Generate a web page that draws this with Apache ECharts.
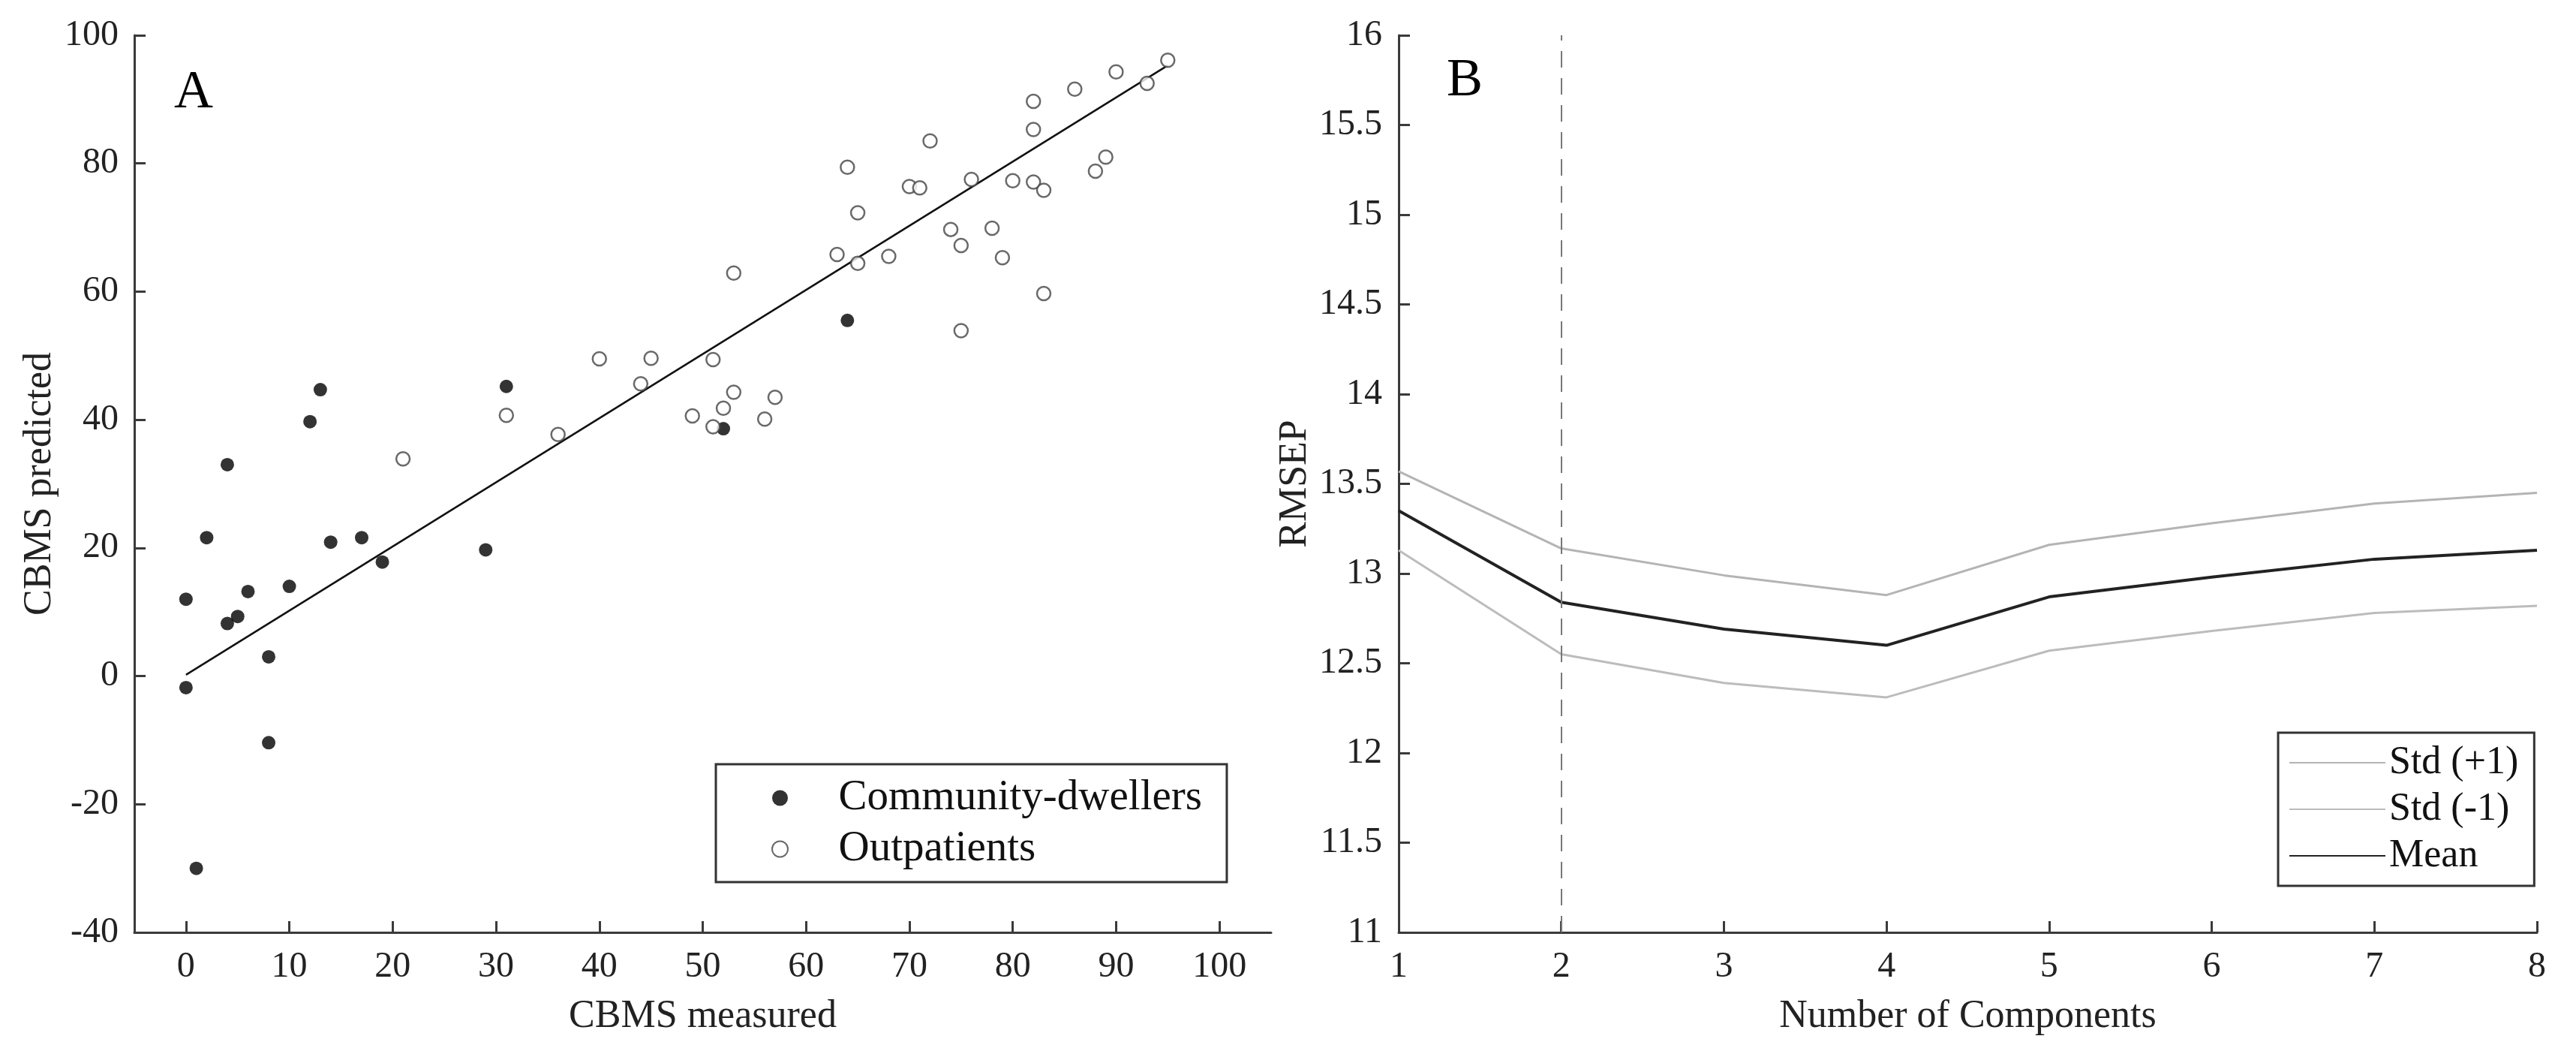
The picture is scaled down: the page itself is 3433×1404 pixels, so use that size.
<!DOCTYPE html>
<html lang="en">
<head>
    <meta charset="UTF-8"/>
    <title>CBMS prediction and RMSEP</title>
    <script src="https://cdn.jsdelivr.net/npm/echarts@6/dist/echarts.min.js"></script>
    <style>
        html, body { margin: 0; padding: 0; background: #fff; }
        #main { width: 3433px; height: 1404px; }
    </style>
</head>
<body>
<div id="main"></div>
<script>
    // panel A: measured vs predicted CBMS
    var measuredTicks = [0, 10, 20, 30, 40, 50, 60, 70, 80, 90, 100];
    var community = [
        [0, 12], [0, -1.8], [1, -30], [2, 21.6], [4, 33], [4, 8.2], [5, 9.3], [6, 13.2],
        [8, 3], [8, -10.4], [10, 14], [12, 39.7], [13, 44.7], [14, 20.9], [17, 21.6],
        [19, 17.8], [29, 19.7], [31, 45.2], [52, 38.6], [64, 55.5]
    ];
    var outpatients = [
        [21, 33.9], [31, 40.7], [36, 37.7], [40, 49.5], [44, 45.6], [45, 49.6], [49, 40.6],
        [51, 49.4], [51, 38.9], [52, 41.8], [53, 44.3], [53, 62.9], [56, 40.1], [57, 43.5],
        [63, 65.8], [64, 79.4], [65, 72.3], [65, 64.4], [68, 65.5], [70, 76.4], [71, 76.2],
        [72, 83.5], [74, 69.7], [75, 67.2], [75, 53.9], [76, 77.5], [78, 69.9], [79, 65.3],
        [80, 77.3], [82, 89.7], [82, 85.3], [82, 77.1], [83, 75.8], [83, 59.7], [86, 91.6],
        [88, 78.8], [89, 81], [90, 94.3], [93, 92.5], [95, 96.1]
    ];
    var fitLine = [[0, 0.2], [95, 95.3]];

    // panel B: RMSEP by number of components
    var components = [1, 2, 3, 4, 5, 6, 7, 8];
    var stdPlus  = [13.57, 13.14, 12.99, 12.88, 13.16, 13.28, 13.39, 13.45];
    var stdMinus = [13.13, 12.55, 12.39, 12.31, 12.57, 12.68, 12.78, 12.82];
    var meanRmsep = [13.35, 12.84, 12.69, 12.60, 12.87, 12.98, 13.08, 13.13];
    var chosenComponents = 2;

    function pairs(xs, ys) {
        var out = [];
        for (var i = 0; i < xs.length; i++) {
            out.push([xs[i], ys[i]]);
        }
        return out;
    }

    var serif = '"Liberation Serif", "Times New Roman", serif';
    var axisColor = '#3a3a3a';
    var labelStyle = { color: '#222', fontFamily: serif, fontSize: 48 };
    var nameStyle = { color: '#222', fontFamily: serif, fontSize: 52 };
    var lineAxis = { show: true, onZero: false, lineStyle: { color: axisColor, width: 3 } };
    var tickIn = { show: true, inside: true, length: 15, lineStyle: { color: axisColor, width: 3 } };

    var myChart = echarts.init(document.getElementById('main'));
    myChart.setOption({
        animation: false,
        backgroundColor: '#fff',
        textStyle: { fontFamily: serif },
        grid: [
            { left: 179, top: 47, width: 1515, height: 1195 },
            { left: 1864, top: 47, width: 1517, height: 1195 }
        ],
        xAxis: [{
            gridIndex: 0,
            type: 'value',
            min: -5,
            max: 105,
            axisLine: lineAxis,
            axisTick: Object.assign({ customValues: measuredTicks }, tickIn),
            axisLabel: Object.assign({ customValues: measuredTicks, margin: 22 }, labelStyle),
            splitLine: { show: false },
            name: 'CBMS measured',
            nameLocation: 'middle',
            nameGap: 86,
            nameTextStyle: nameStyle
        }, {
            gridIndex: 1,
            type: 'value',
            min: 1,
            max: 8,
            interval: 1,
            axisLine: lineAxis,
            axisTick: tickIn,
            axisLabel: Object.assign({ margin: 22 }, labelStyle),
            splitLine: { show: false },
            name: 'Number of Components',
            nameLocation: 'middle',
            nameGap: 86,
            nameTextStyle: nameStyle
        }],
        yAxis: [{
            gridIndex: 0,
            type: 'value',
            min: -40,
            max: 100,
            interval: 20,
            axisLine: lineAxis,
            axisTick: tickIn,
            axisLabel: Object.assign({ margin: 21 }, labelStyle),
            splitLine: { show: false },
            name: 'CBMS predicted',
            nameLocation: 'middle',
            nameGap: 100,
            nameTextStyle: nameStyle
        }, {
            gridIndex: 1,
            type: 'value',
            min: 11,
            max: 16,
            interval: 0.5,
            axisLine: lineAxis,
            axisTick: tickIn,
            axisLabel: Object.assign({ margin: 22 }, labelStyle),
            splitLine: { show: false },
            name: 'RMSEP',
            nameLocation: 'middle',
            nameGap: 112,
            nameTextStyle: nameStyle
        }],
        legend: [{
            data: ['Community-dwellers', 'Outpatients'],
            orient: 'vertical',
            left: 954,
            top: 1018,
            padding: [15, 33, 14, 74],
            itemWidth: 30,
            itemHeight: 21,
            itemGap: 8,
            borderColor: '#333',
            borderWidth: 3,
            backgroundColor: '#fff',
            selectedMode: false,
            textStyle: { color: '#111', fontFamily: serif, fontSize: 57, lineHeight: 60, padding: [0, 0, 0, 58] }
        }, {
            data: ['Std (+1)', 'Std (-1)', 'Mean'],
            orient: 'vertical',
            left: 3036,
            top: 976,
            padding: [12, 21, 12, 14],
            itemWidth: 128,
            itemHeight: 14,
            itemGap: 6,
            borderColor: '#333',
            borderWidth: 3,
            backgroundColor: '#fff',
            selectedMode: false,
            itemStyle: { opacity: 0 },
            textStyle: { color: '#111', fontFamily: serif, fontSize: 52, lineHeight: 56 }
        }],
        graphic: [
            { type: 'text', left: 232, top: 88, style: { text: 'A', font: '72px "Liberation Serif"', fill: '#000' } },
            { type: 'text', left: 1928, top: 72, style: { text: 'B', font: '72px "Liberation Serif"', fill: '#000' } }
        ],
        series: [{
            name: 'fit',
            type: 'line',
            xAxisIndex: 0,
            yAxisIndex: 0,
            data: fitLine,
            symbol: 'none',
            silent: true,
            lineStyle: { color: '#111', width: 2.5 },
            z: 1
        }, {
            name: 'Community-dwellers',
            type: 'scatter',
            xAxisIndex: 0,
            yAxisIndex: 0,
            data: community,
            symbol: 'circle',
            symbolSize: 18,
            itemStyle: { color: '#000' },
            z: 3
        }, {
            name: 'Outpatients',
            type: 'scatter',
            xAxisIndex: 0,
            yAxisIndex: 0,
            data: outpatients,
            symbol: 'circle',
            symbolSize: 18,
            itemStyle: { color: '#fff', borderColor: '#444', borderWidth: 2.5 },
            z: 3
        }, {
            name: 'Std (+1)',
            type: 'line',
            xAxisIndex: 1,
            yAxisIndex: 1,
            data: pairs(components, stdPlus),
            symbol: 'none',
            itemStyle: { color: '#b4b4b4' },
            lineStyle: { color: '#b4b4b4', width: 3 }
        }, {
            name: 'Std (-1)',
            type: 'line',
            xAxisIndex: 1,
            yAxisIndex: 1,
            data: pairs(components, stdMinus),
            symbol: 'none',
            itemStyle: { color: '#bcbcbc' },
            lineStyle: { color: '#bcbcbc', width: 3 }
        }, {
            name: 'Mean',
            type: 'line',
            xAxisIndex: 1,
            yAxisIndex: 1,
            data: pairs(components, meanRmsep),
            symbol: 'none',
            itemStyle: { color: '#222' },
            lineStyle: { color: '#222', width: 4 },
            markLine: {
                silent: true,
                symbol: 'none',
                label: { show: false },
                lineStyle: { color: '#777', width: 2, type: [22, 14] },
                data: [{ xAxis: chosenComponents }]
            }
        }]
    });
</script>
</body>
</html>
